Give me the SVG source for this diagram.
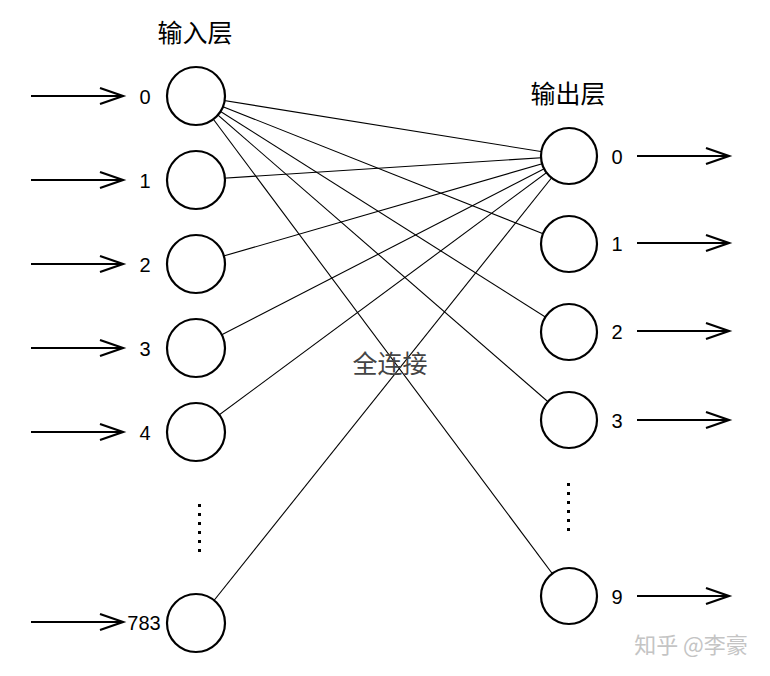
<svg xmlns="http://www.w3.org/2000/svg" width="770" height="676" viewBox="0 0 770 676">
<defs>
<marker id="arr" markerWidth="28" markerHeight="20" refX="24" refY="10" orient="auto" markerUnits="userSpaceOnUse">
<path d="M1,2 L24,10 L1,18" fill="none" stroke="#000" stroke-width="2.2"/>
</marker>
<style>
.n{fill:#fff;stroke:#000;stroke-width:2.2}
.c{stroke:#000;stroke-width:1.1;fill:none}
.a{stroke:#000;stroke-width:2.2;fill:none;marker-end:url(#arr)}
.num{font-family:"Liberation Sans",Arial,sans-serif;font-size:20px;fill:#000;text-anchor:middle;dominant-baseline:central}
.t{font-family:"Noto Sans CJK SC",sans-serif;font-size:25px;fill:#000;text-anchor:middle;dominant-baseline:central}
.dot{fill:#000}
</style>
</defs>
<rect width="770" height="676" fill="#fff"/>
<text class="t" x="195" y="31">输入层</text>
<text class="t" x="568" y="92">输出层</text>
<g id="connectors">
<line class="c" x1="196" y1="96" x2="569" y2="156"/>
<line class="c" x1="196" y1="96" x2="569" y2="244"/>
<line class="c" x1="196" y1="96" x2="569" y2="332"/>
<line class="c" x1="196" y1="96" x2="569" y2="420"/>
<line class="c" x1="196" y1="96" x2="569" y2="596"/>
<line class="c" x1="196" y1="180" x2="569" y2="156"/>
<line class="c" x1="196" y1="264" x2="569" y2="156"/>
<line class="c" x1="196" y1="348" x2="569" y2="156"/>
<line class="c" x1="196" y1="432" x2="569" y2="156"/>
<line class="c" x1="196" y1="623" x2="569" y2="156"/>
<line class="a" x1="31" y1="96" x2="123" y2="96"/>
<line class="a" x1="31" y1="180" x2="123" y2="180"/>
<line class="a" x1="31" y1="264" x2="123" y2="264"/>
<line class="a" x1="31" y1="348" x2="123" y2="348"/>
<line class="a" x1="31" y1="432" x2="123" y2="432"/>
<line class="a" x1="31" y1="622" x2="123" y2="622"/>
<line class="a" x1="637" y1="156" x2="729" y2="156"/>
<line class="a" x1="637" y1="243" x2="729" y2="243"/>
<line class="a" x1="637" y1="331" x2="729" y2="331"/>
<line class="a" x1="637" y1="420" x2="729" y2="420"/>
<line class="a" x1="637" y1="596" x2="729" y2="596"/>
</g>
<text x="390" y="362" style="font-family:'Noto Sans CJK SC',sans-serif;font-size:25px;fill:#444;text-anchor:middle;dominant-baseline:central">全连接</text>
<g id="in0"><circle class="n" cx="196" cy="96" r="29"/><text class="num" x="145" y="97">0</text></g>
<g id="in1"><circle class="n" cx="196" cy="180" r="29"/><text class="num" x="145" y="181">1</text></g>
<g id="in2"><circle class="n" cx="196" cy="264" r="29"/><text class="num" x="145" y="265">2</text></g>
<g id="in3"><circle class="n" cx="196" cy="348" r="29"/><text class="num" x="145" y="349">3</text></g>
<g id="in4"><circle class="n" cx="196" cy="432" r="29"/><text class="num" x="145" y="433">4</text></g>
<g id="in783"><circle class="n" cx="196" cy="623" r="29"/><text class="num" x="144" y="623">783</text></g>
<g id="in-dots">
<rect class="dot" x="198" y="504" width="3" height="3"/>
<rect class="dot" x="198" y="513" width="3" height="3"/>
<rect class="dot" x="198" y="522" width="3" height="3"/>
<rect class="dot" x="198" y="531" width="3" height="3"/>
<rect class="dot" x="198" y="540" width="3" height="3"/>
<rect class="dot" x="198" y="549" width="3" height="3"/>
</g>
<g id="out0"><circle class="n" cx="569" cy="156" r="28"/><text class="num" x="617" y="157">0</text></g>
<g id="out1"><circle class="n" cx="569" cy="244" r="28"/><text class="num" x="617" y="244">1</text></g>
<g id="out2"><circle class="n" cx="569" cy="332" r="28"/><text class="num" x="617" y="332">2</text></g>
<g id="out3"><circle class="n" cx="569" cy="420" r="28"/><text class="num" x="617" y="421">3</text></g>
<g id="out9"><circle class="n" cx="569" cy="596" r="28"/><text class="num" x="617" y="597">9</text></g>
<g id="out-dots">
<rect class="dot" x="567" y="483" width="3" height="3"/>
<rect class="dot" x="567" y="492" width="3" height="3"/>
<rect class="dot" x="567" y="501" width="3" height="3"/>
<rect class="dot" x="567" y="510" width="3" height="3"/>
<rect class="dot" x="567" y="519" width="3" height="3"/>
<rect class="dot" x="567" y="528" width="3" height="3"/>
</g>
<text x="691" y="643" style="font-family:'Noto Sans CJK SC',sans-serif;font-size:22px;fill:#c4c4c4;text-anchor:middle;dominant-baseline:central">知乎 @李豪</text>
</svg>
